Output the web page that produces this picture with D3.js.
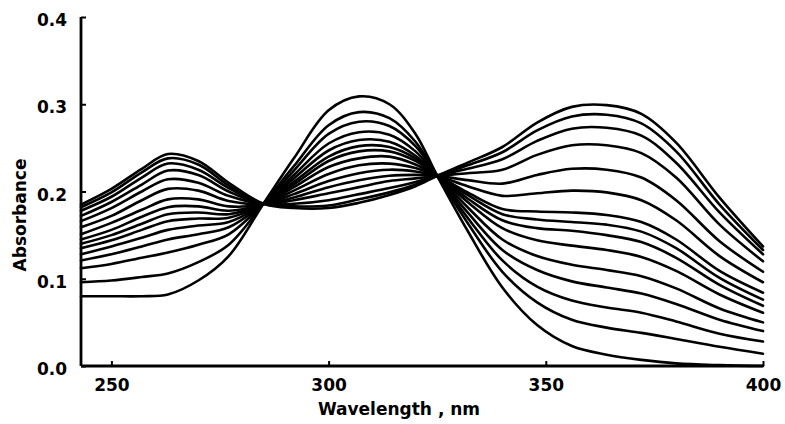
<!DOCTYPE html>
<html>
<head>
<meta charset="utf-8">
<script src="https://cdn.jsdelivr.net/npm/d3@7"></script>
<style>
  html, body { margin: 0; padding: 0; background: #fff; }
  svg { display: block; }
  text { font-family: "DejaVu Sans", sans-serif; font-weight: bold; fill: #000; }
</style>
</head>
<body>
<svg id="chart" width="785" height="424"></svg>
<script>
// Wavelength grid (nm)
const wavelengths = [243, 250, 257, 263, 270, 277, 285, 292, 300, 307, 314, 320, 325, 332, 340, 348, 356, 364, 372, 380, 390, 400];

// Absorbance spectra, one per titration step
const spectrum01 = [0.080, 0.080, 0.080, 0.082, 0.098, 0.126, 0.186, 0.238, 0.293, 0.309, 0.300, 0.266, 0.218, 0.155, 0.090, 0.047, 0.023, 0.013, 0.007, 0.003, 0.001, 0.000];
const spectrum02 = [0.096, 0.098, 0.102, 0.106, 0.119, 0.139, 0.186, 0.229, 0.276, 0.291, 0.284, 0.257, 0.218, 0.164, 0.108, 0.073, 0.053, 0.044, 0.038, 0.031, 0.022, 0.014];
const spectrum03 = [0.112, 0.117, 0.124, 0.130, 0.139, 0.151, 0.186, 0.224, 0.266, 0.280, 0.275, 0.252, 0.218, 0.170, 0.121, 0.091, 0.075, 0.067, 0.061, 0.051, 0.037, 0.028];
const spectrum04 = [0.121, 0.128, 0.137, 0.145, 0.151, 0.159, 0.186, 0.219, 0.255, 0.268, 0.265, 0.246, 0.218, 0.176, 0.133, 0.110, 0.097, 0.090, 0.083, 0.071, 0.053, 0.040];
const spectrum05 = [0.128, 0.137, 0.147, 0.156, 0.161, 0.165, 0.186, 0.215, 0.247, 0.259, 0.257, 0.241, 0.218, 0.182, 0.145, 0.126, 0.116, 0.110, 0.103, 0.089, 0.066, 0.050];
const spectrum06 = [0.135, 0.144, 0.156, 0.166, 0.169, 0.170, 0.186, 0.211, 0.240, 0.252, 0.251, 0.238, 0.218, 0.188, 0.158, 0.144, 0.138, 0.133, 0.125, 0.109, 0.082, 0.061];
const spectrum07 = [0.140, 0.150, 0.163, 0.174, 0.176, 0.174, 0.186, 0.208, 0.235, 0.246, 0.246, 0.235, 0.218, 0.192, 0.167, 0.158, 0.155, 0.150, 0.142, 0.124, 0.093, 0.069];
const spectrum08 = [0.145, 0.156, 0.171, 0.182, 0.183, 0.178, 0.186, 0.205, 0.228, 0.238, 0.240, 0.231, 0.218, 0.196, 0.174, 0.168, 0.165, 0.162, 0.154, 0.135, 0.101, 0.076];
const spectrum09 = [0.151, 0.164, 0.179, 0.191, 0.191, 0.183, 0.186, 0.201, 0.220, 0.230, 0.232, 0.227, 0.218, 0.199, 0.180, 0.177, 0.176, 0.173, 0.165, 0.145, 0.109, 0.084];
const spectrum10 = [0.159, 0.172, 0.190, 0.203, 0.201, 0.189, 0.186, 0.197, 0.212, 0.221, 0.225, 0.223, 0.218, 0.206, 0.195, 0.198, 0.201, 0.199, 0.190, 0.167, 0.126, 0.096];
const spectrum11 = [0.166, 0.181, 0.200, 0.214, 0.210, 0.195, 0.186, 0.193, 0.205, 0.213, 0.218, 0.219, 0.218, 0.213, 0.209, 0.219, 0.226, 0.225, 0.216, 0.190, 0.143, 0.108];
const spectrum12 = [0.172, 0.188, 0.208, 0.224, 0.219, 0.200, 0.186, 0.190, 0.198, 0.205, 0.212, 0.215, 0.218, 0.221, 0.225, 0.242, 0.253, 0.253, 0.244, 0.216, 0.162, 0.120];
const spectrum13 = [0.178, 0.194, 0.216, 0.232, 0.225, 0.204, 0.186, 0.186, 0.190, 0.197, 0.204, 0.211, 0.218, 0.226, 0.237, 0.258, 0.272, 0.273, 0.264, 0.233, 0.176, 0.128];
const spectrum14 = [0.182, 0.199, 0.222, 0.238, 0.231, 0.207, 0.186, 0.183, 0.184, 0.191, 0.199, 0.208, 0.218, 0.230, 0.245, 0.270, 0.286, 0.288, 0.278, 0.246, 0.185, 0.133];
const spectrum15 = [0.185, 0.203, 0.226, 0.243, 0.235, 0.210, 0.186, 0.181, 0.181, 0.187, 0.196, 0.206, 0.218, 0.233, 0.251, 0.279, 0.297, 0.299, 0.289, 0.256, 0.193, 0.137];

// Tick labels
const xTicks = [250, 300, 350, 400];
const yTicks = [0.0, 0.1, 0.2, 0.3, 0.4];
const xTitle = "Wavelength , nm";
const yTitle = "Absorbance";

const spectra = [spectrum01, spectrum02, spectrum03, spectrum04, spectrum05, spectrum06, spectrum07, spectrum08,
                 spectrum09, spectrum10, spectrum11, spectrum12, spectrum13, spectrum14, spectrum15];

const svg = d3.select("#chart");
const x = d3.scaleLinear().domain([243, 400]).range([81, 763]);
const y = d3.scaleLinear().domain([0, 0.4]).range([366, 17]);

// Curves
const line = d3.line()
  .x((d, i) => x(wavelengths[i]))
  .y(d => y(d))
  .curve(d3.curveCatmullRom.alpha(0.5));

svg.append("g")
  .selectAll("path")
  .data(spectra)
  .join("path")
  .attr("d", line)
  .attr("fill", "none")
  .attr("stroke", "#000")
  .attr("stroke-width", 2.6)
  .attr("stroke-linejoin", "round")
  .attr("stroke-linecap", "round");

// Axes
const xAxis = d3.axisBottom(x).tickValues(xTicks).tickSize(-5).tickPadding(14).tickFormat(d3.format("d"));
const gx = svg.append("g").attr("transform", `translate(0,${y(0)})`).call(xAxis);
gx.select(".domain").attr("d", `M${x(243)},0H${x(400)}`).attr("stroke-width", 2.8).attr("stroke", "#000");
gx.selectAll(".tick line").attr("stroke-width", 2).attr("stroke", "#000");
gx.selectAll(".tick text").attr("font-size", 17).attr("font-family", "DejaVu Sans").attr("font-weight", "bold").attr("dy", "0.62em");

const yAxis = d3.axisLeft(y).tickValues(yTicks).tickSize(-5).tickPadding(14).tickFormat(d3.format(".1f"));
const gy = svg.append("g").attr("transform", `translate(${x(243)},0)`).call(yAxis);
gy.select(".domain").attr("d", `M0,${y(0)}V${y(0.4)}`).attr("stroke-width", 2.8).attr("stroke", "#000");
gy.selectAll(".tick line").attr("stroke-width", 2).attr("stroke", "#000");
gy.selectAll(".tick text").attr("font-size", 17).attr("font-family", "DejaVu Sans").attr("font-weight", "bold").attr("dy", "0.5em");

// Axis titles
svg.append("text")
  .attr("x", 399).attr("y", 415)
  .attr("text-anchor", "middle")
  .attr("font-size", 17)
  .text(xTitle);

svg.append("text")
  .attr("transform", "translate(26,215) rotate(-90)")
  .attr("text-anchor", "middle")
  .attr("font-size", 17)
  .text(yTitle);
</script>
</body>
</html>
